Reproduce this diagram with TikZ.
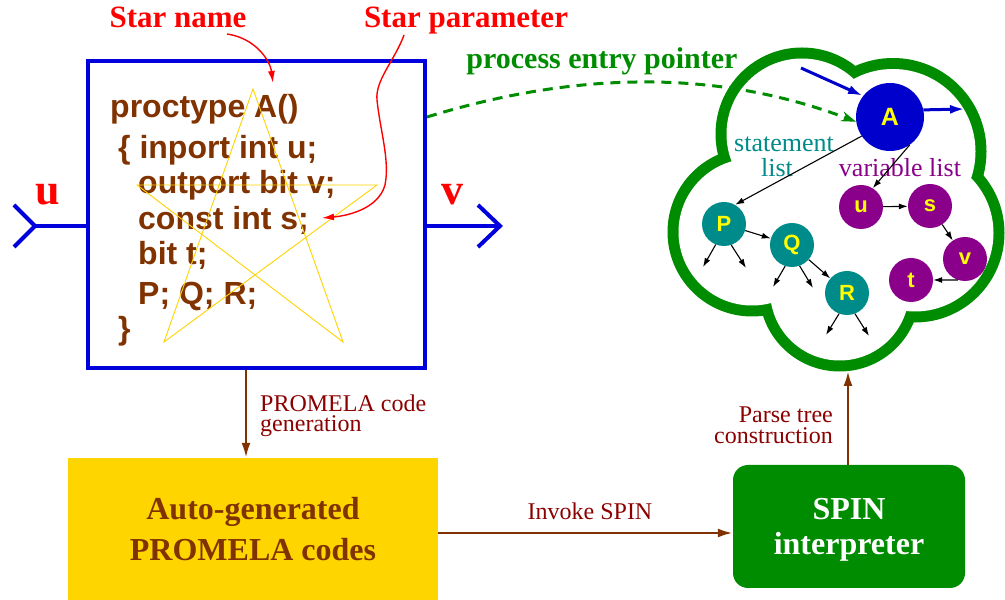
\documentclass[tikz,border=0pt]{standalone}
\usepackage{fontspec}
\setmainfont{Liberation Serif}
\newfontfamily\codefont{Liberation Sans}
\usetikzlibrary{arrows.meta}

\definecolor{codebrown}{RGB}{128,51,0}
\definecolor{labelred}{RGB}{139,0,0}
\definecolor{starred}{RGB}{255,0,0}
\definecolor{staryellow}{RGB}{255,210,0}
\definecolor{boxblue}{RGB}{0,0,220}
\definecolor{gold}{RGB}{255,213,0}
\definecolor{spingreen}{RGB}{0,140,0}
\definecolor{cloudgreen}{RGB}{0,140,0}
\definecolor{stmtteal}{RGB}{0,139,139}
\definecolor{varpurple}{RGB}{139,0,139}
\definecolor{procblue}{RGB}{0,0,205}
\definecolor{lettery}{RGB}{255,255,0}

\newcommand\setfs[1]{\fontsize{#1}{#1}\selectfont}

\tikzset{
  codeline/.style={font=\codefont\bfseries\setfs{32}, text=codebrown, anchor=base west, inner sep=0pt},
  starlabel/.style={font=\bfseries\setfs{31}, text=starred, anchor=base, inner sep=0pt},
  portlabel/.style={font=\bfseries\setfs{44}, text=starred, anchor=base, inner sep=0pt},
  portline/.style={draw=boxblue, line width=4pt},
  redarrow/.style={draw=starred, line width=1.4pt, -{Latex[length=12pt,width=7pt]}},
  brownarrow/.style={draw=codebrown, line width=2.5pt, -{Latex[length=15pt,width=9pt]}},
  steplabel/.style={font=\setfs{24}, text=labelred, inner sep=0pt},
  bigbold/.style={font=\bfseries\setfs{32}, anchor=base, inner sep=0pt},
  listnode/.style={circle, inner sep=0pt, minimum size=44pt, text=lettery, font=\codefont\bfseries\setfs{22}},
  stmtnode/.style={listnode, fill=stmtteal},
  varnode/.style={listnode, fill=varpurple},
  link/.style={draw=black, line width=1.1pt, -{Latex[length=9pt,width=6pt]}},
  bluearrow/.style={draw=procblue, line width=3pt, -{Latex[length=15pt,width=9pt]}},
  pointer/.style={draw=cloudgreen, line width=3pt, dash pattern=on 10pt off 7pt, -{Stealth[length=15pt,width=10pt]}},
  listlabel/.style={font=\setfs{26}, anchor=base, inner sep=0pt},
}

\begin{document}
\begin{tikzpicture}[x=1pt,y=1pt]
\useasboundingbox (0,0) rectangle (1005,600);

% ---------- process box with its code ----------
\node[draw=boxblue, line width=4pt, minimum width=337pt, minimum height=307pt, inner sep=0pt]
  (codebox) at (256.5,385.5) {};

\node[codeline] (c1) at (110,482) {proctype A()};
\node[codeline] (c2) at (118,441) {\{ inport int u;};
\node[codeline] (c3) at (138,406) {outport bit v;};
\node[codeline] (c4) at (138,370) {const int s;};
\node[codeline] (c5) at (138,335) {bit t;};
\node[codeline] (c6) at (138,295) {P; Q; R;};
\node[codeline] (c7) at (118,260) {\}};

% the star outline
\draw[staryellow, line width=0.9pt, line join=miter]
  (253,511) -- (164,258) -- (377,415) -- (137,415) -- (343,258) -- cycle;

% ports
\coordinate (uin) at (35,374);
\coordinate (vout) at (500,374);
\draw[portline] (uin) -- (codebox.west |- uin);
\draw[portline, line join=miter] (14,395) -- (uin) -- (14,353);
\draw[portline] (codebox.east |- vout) -- (vout);
\draw[portline, line join=miter] (478,395) -- (vout) -- (478,353);
\node[portlabel] (ulabel) at (48,395) {u};
\node[portlabel] (vlabel) at (452,395) {v};

% star annotations
\node[starlabel] (starname) at (178,572) {Star name};
\node[starlabel] (starparam) at (466,572) {Star parameter};
\coordinate (snstart) at (227,566);
\coordinate (snend) at (273,517);
\draw[redarrow] (snstart) .. controls (255,562) and (270,540) .. (snend);
\coordinate (spstart) at (404,565);
\coordinate (spend) at (322,382);
\draw[redarrow] (spstart) .. controls (395,540) and (375,520) .. (377,500)
  .. controls (380,470) and (390,440) .. (385,415)
  .. controls (378,390) and (345,384) .. (spend);

% ---------- parse tree cloud ----------
\foreach \cx/\cy/\r in {802/466/75.5, 893/448.5/82.5, 915/367/78.5, 839.6/309/69.5, 752/368/73.5}
  \draw[cloudgreen, line width=22pt] (\cx,\cy) circle[radius=\r pt];
\foreach \cx/\cy/\r in {802/466/75.5, 893/448.5/82.5, 915/367/78.5, 839.6/309/69.5, 752/368/73.5}
  \fill[white] (\cx,\cy) circle[radius=\r pt];
\fill[white] (739,436) -- (854,513) -- (962,420) -- (903,296) -- (776,302) -- cycle;
\coordinate (cloudbottom) at (848,229);

\node[circle, fill=procblue, inner sep=0pt, minimum size=68pt, text=lettery,
      font=\codefont\bfseries\setfs{25}] (A) at (890,483) {A};
\node[stmtnode] (P) at (724,376) {P};
\node[stmtnode] (Q) at (792,355) {Q};
\node[stmtnode] (R) at (847,307) {R};
\node[varnode] (u) at (861,393) {u};
\node[varnode] (s) at (930,394) {s};
\node[varnode] (v) at (965,341) {v};
\node[varnode] (t) at (911,320) {t};

\node[listlabel, text=stmtteal] (stmt1) at (784,448) {statement};
\node[listlabel, text=stmtteal] (stmt2) at (777,423) {list};
\node[listlabel, text=varpurple] (varlist) at (900,423) {variable list};

\draw[link] (A.214) -- (P.60);
\draw[link] (A.305) -- (u.58);
\draw[link] (P) -- (Q);
\draw[link] (Q) -- (R);
\draw[link] (u) -- (s);
\draw[link] (s) -- (v);
\draw[link] (v.251) -- (t.east);

\coordinate (p1) at (703,333);
\coordinate (p2) at (746,332);
\coordinate (q1) at (773,313);
\coordinate (q2) at (813,312);
\coordinate (r1) at (826,265);
\coordinate (r2) at (869,264);
\draw[link] (P.248) -- (p1);
\draw[link] (P.289) -- (p2);
\draw[link] (Q.252) -- (q1);
\draw[link] (Q.290) -- (q2);
\draw[link] (R.249) -- (r1);
\draw[link] (R.291) -- (r2);

\coordinate (ain) at (801,532);
\coordinate (aout) at (965,491);
\draw[bluearrow] (ain) -- (A.142);
\draw[bluearrow] (A.12) -- (aout);

% process entry pointer
\draw[pointer] ([yshift=97.5pt]codebox.east) .. controls (580,530) and (720,530) .. (A.188);
\node[font=\bfseries\setfs{30}, text=cloudgreen, anchor=base, inner sep=0pt] (pep) at (602,531) {process entry pointer};

% ---------- lower flow ----------
\node[fill=gold, minimum width=370pt, minimum height=142pt, inner sep=0pt] (autobox) at (253,71) {};
\node[bigbold, text=codebrown] (auto1) at (253,80) {Auto-generated};
\node[bigbold, text=codebrown] (auto2) at (253,39) {PROMELA codes};

\node[fill=spingreen, rounded corners=15pt, minimum width=232pt, minimum height=123pt, inner sep=0pt]
  (spinbox) at (849,73.5) {};
\node[bigbold, text=white] (spin1) at (849,80) {SPIN};
\node[bigbold, text=white] (spin2) at (849,45) {interpreter};

\draw[brownarrow] ([xshift=-10.5pt]codebox.south) -- ([xshift=-7pt]autobox.north);
\node[steplabel, anchor=base west] (gen1) at (260,188) {PROMELA code};
\node[steplabel, anchor=base west] (gen2) at (260,168) {generation};

\draw[brownarrow] ([yshift=-4pt]autobox.east) -- ([yshift=-6.5pt]spinbox.west);
\node[steplabel, anchor=base] (invoke) at (590,80) {Invoke SPIN};

\draw[brownarrow] ([xshift=-1pt]spinbox.north) -- (cloudbottom);
\node[steplabel, anchor=base east] (parse1) at (833,177) {Parse tree};
\node[steplabel, anchor=base east] (parse2) at (833,156) {construction};

\end{tikzpicture}
\end{document}
